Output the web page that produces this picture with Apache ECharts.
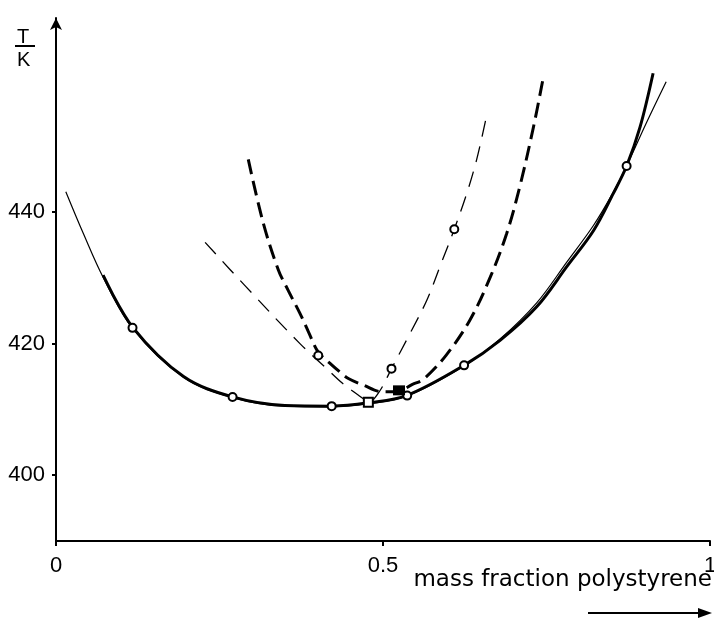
<!DOCTYPE html>
<html><head><meta charset="utf-8">
<script src="https://cdn.jsdelivr.net/npm/echarts@6/dist/echarts.min.js"></script>
<style>html,body{margin:0;padding:0;background:#fff}#c{width:714px;height:630px}</style>
</head><body><div id="c"></div>
<script>
// ---- data (mass fraction polystyrene, T/K) ----
const xTicks = [0, 0.5, 1];
const xTickLabels = ['0', '0.5', '1'];
const yTicks = [400, 420, 440];
const xTitle = 'mass fraction polystyrene';

const thinSolid = [[0.015,443.1],[0.042,436.7],[0.072,430.1],[0.118,422.2],[0.195,414.9],[0.27,411.8],[0.35,410.5],[0.42,410.4],[0.48,410.9],[0.536,412.0],[0.624,416.6],[0.679,420.7],[0.735,426.2],[0.781,432.4],[0.822,438.0],[0.852,443.0],[0.8725,447.0],[0.903,453.6],[0.933,459.8]];
const thickSolid = [[0.072,430.4],[0.118,422.4],[0.195,415.0],[0.27,411.9],[0.35,410.6],[0.4215,410.5],[0.4776,411.0],[0.536,412.1],[0.624,416.7],[0.679,420.5],[0.735,425.6],[0.781,431.7],[0.822,437.2],[0.852,442.8],[0.8725,447.0],[0.893,452.9],[0.913,461.1]];
const thinDashed = [[0.228,435.4],[0.29,428.7],[0.373,420.0],[0.414,416.2],[0.439,413.9],[0.462,412.2],[0.479,411.2],[0.495,412.8],[0.513,416.2],[0.541,421.5],[0.567,426.6],[0.587,431.7],[0.609,437.4],[0.628,442.8],[0.643,447.9],[0.657,454.0]];
const thickDashed = [[0.294,448.0],[0.317,438.3],[0.340,431.2],[0.355,428.1],[0.373,424.6],[0.386,421.8],[0.401,418.7],[0.419,417.0],[0.434,415.7],[0.447,414.7],[0.470,413.7],[0.498,412.7],[0.52,412.7],[0.545,413.8],[0.562,414.6],[0.597,418.3],[0.633,423.6],[0.664,430.1],[0.689,436.7],[0.709,443.8],[0.730,452.9],[0.744,459.9]];
const openCircles = [[0.117,422.4],[0.270,411.9],[0.4215,410.5],[0.401,418.2],[0.513,416.2],[0.537,412.1],[0.609,437.4],[0.624,416.7],[0.8725,447.0]];
const openSquares = [[0.4776,411.1]];
const filledSquares = [[0.5245,412.9]];

// ---- chart ----
const chart = echarts.init(document.getElementById('c'), null, {renderer: 'canvas'});
const F = 'Liberation Sans';
const black = '#000';
function lineSeries(data, width, type) {
  return {
    type: 'line', data: data, showSymbol: false, smooth: 0.35, z: 2,
    lineStyle: {color: black, width: width, type: type, opacity: 1},
    silent: true
  };
}
const option = {
  animation: false,
  backgroundColor: '#fff',
  grid: {left: 56, right: 4, top: 18, bottom: 89, containLabel: false, outerBoundsMode: 'none'},
  xAxis: {
    type: 'value', min: 0, max: 1, interval: 0.5,
    axisLine: {show: true, lineStyle: {color: black, width: 2}},
    axisTick: {show: true, length: 5, lineStyle: {color: black, width: 2}},
    axisLabel: {color: black, fontSize: 22, fontFamily: F, margin: 14,
      formatter: function (v) { const i = xTicks.indexOf(v); return i >= 0 ? xTickLabels[i] : ''; }},
    splitLine: {show: false}
  },
  yAxis: {
    type: 'value', min: 390, max: 469.5,
    axisLine: {show: true, symbol: ['none', 'arrow'], symbolSize: [9, 12], lineStyle: {color: black, width: 2}},
    axisTick: {show: true, length: 4, customValues: yTicks, lineStyle: {color: black, width: 2}},
    axisLabel: {show: true, customValues: yTicks, color: black, fontSize: 22, fontFamily: F, margin: 11},
    splitLine: {show: false}
  },
  graphic: [
    {type: 'text', left: 17, top: 27, style: {text: 'T', font: '20px "Liberation Sans"', fill: black}},
    {type: 'line', shape: {x1: 15, y1: 46, x2: 35, y2: 46}, style: {stroke: black, lineWidth: 2}},
    {type: 'text', left: 17, top: 50, style: {text: 'K', font: '20px "Liberation Sans"', fill: black}},
    {type: 'text', right: 2, top: 569, style: {text: xTitle, font: '23px "DejaVu Sans"', fill: black}},
    {type: 'line', shape: {x1: 588, y1: 613, x2: 700, y2: 613}, style: {stroke: black, lineWidth: 2}},
    {type: 'polygon', shape: {points: [[712, 613], [698, 608], [698, 618]]}, style: {fill: black}}
  ],
  series: [
    lineSeries(thinSolid, 1.2, 'solid'),
    lineSeries(thickSolid, 3, 'solid'),
    lineSeries(thinDashed, 1.3, [16, 10]),
    lineSeries(thickDashed, 3, [15, 7]),
    {type: 'scatter', data: openCircles, symbol: 'circle', symbolSize: 8, z: 5,
      itemStyle: {color: '#fff', borderColor: black, borderWidth: 2, opacity: 1}},
    {type: 'scatter', data: openSquares, symbol: 'rect', symbolSize: 9, z: 5,
      itemStyle: {color: '#fff', borderColor: black, borderWidth: 2, opacity: 1}},
    {type: 'scatter', data: filledSquares, symbol: 'rect', symbolSize: [12, 10], z: 6,
      itemStyle: {color: black, opacity: 1}}
  ]
};
chart.setOption(option);
</script>
</body></html>
